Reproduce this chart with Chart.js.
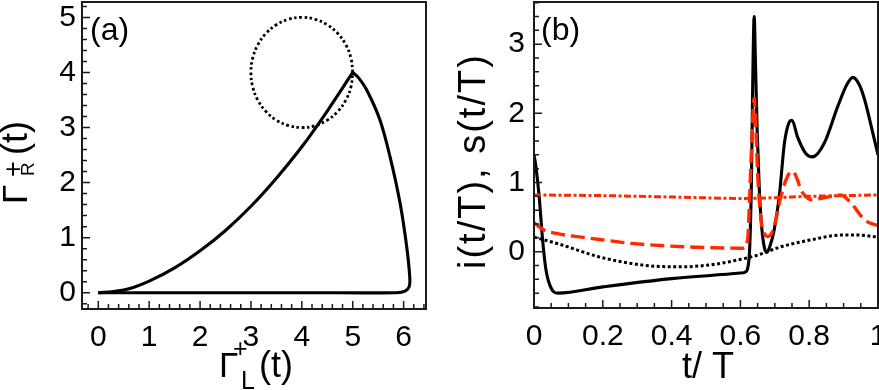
<!DOCTYPE html>
<html>
<head>
<meta charset="utf-8">
<script src="https://cdn.jsdelivr.net/npm/chart.js@4.4.0/dist/chart.umd.min.js"></script>
<style>
  html, body { margin: 0; padding: 0; background: #fff; }
  #wrap { position: relative; width: 879px; height: 390px; overflow: hidden; }
  canvas { position: absolute; top: 0; }
  #chartA { left: 0; }
  #chartB { left: 440px; }
</style>
</head>
<body>
<div id="wrap">
  <canvas id="chartA" width="440" height="390"></canvas>
  <canvas id="chartB" width="439" height="390"></canvas>
</div>
<script>
// ---- panel (a): Gamma_R^+(t) against Gamma_L^+(t) ----
const riseX = [0, 0.3, 0.6, 1.0, 1.5, 2.0, 2.5, 3.0, 3.5, 4.0, 4.5, 5.0];
const riseY = [0, 0.02, 0.07, 0.21, 0.45, 0.76, 1.13, 1.57, 2.08, 2.65, 3.3, 4.0];
const fallX = [5.0, 5.1, 5.27, 5.53, 5.73, 5.93, 6.06, 6.12, 6.11, 6.03, 5.86, 4.0, 2.0, 0];
const fallY = [4.0, 3.92, 3.69, 3.15, 2.48, 1.63, 0.84, 0.29, 0.11, 0.03, 0.0, 0, 0, 0];
const circleX = [5, 4.966, 4.866, 4.707, 4.5, 4.259, 4, 3.741, 3.5, 3.293, 3.134, 3.034, 3,
                 3.034, 3.134, 3.293, 3.5, 3.741, 4, 4.259, 4.5, 4.707, 4.866, 4.966, 5];
const circleY = [4, 4.259, 4.5, 4.707, 4.866, 4.966, 5, 4.966, 4.866, 4.707, 4.5, 4.259, 4,
                 3.741, 3.5, 3.293, 3.134, 3.034, 3, 3.034, 3.134, 3.293, 3.5, 3.741, 4];
const xTicksA = [0, 1, 2, 3, 4, 5, 6];
const yTicksA = [0, 1, 2, 3, 4, 5];

// ---- panel (b): i(t/T), s(t/T) ----
const solidX = [0, 0.005, 0.015, 0.025, 0.035, 0.05, 0.07, 0.2, 0.4, 0.6, 0.616, 0.622, 0.627, 0.632,
                0.636, 0.640, 0.644, 0.649, 0.655, 0.662, 0.670, 0.677, 0.686, 0.698, 0.713, 0.728,
                0.74, 0.75, 0.766, 0.79, 0.81, 0.844, 0.883, 0.91, 0.927, 0.945, 0.961, 0.98, 1.0];
const solidY = [1.40, 1.25, 0.80, 0.17, -0.27, -0.53, -0.60, -0.51, -0.39, -0.31, -0.29, -0.22, 0.05, 1.0,
                2.5, 3.40, 2.7, 1.7, 0.9, 0.35, 0.05, -0.01, 0.08, 0.31, 0.80, 1.57,
                1.85, 1.90, 1.66, 1.42, 1.37, 1.57, 2.10, 2.42, 2.52, 2.42, 2.20, 1.82, 1.40];
const dashedX = [0, 0.03, 0.069, 0.12, 0.185, 0.282, 0.398, 0.5, 0.607, 0.621, 0.627, 0.634, 0.640,
                 0.645, 0.650, 0.660, 0.670, 0.680, 0.690, 0.698, 0.718, 0.738, 0.752, 0.765, 0.776,
                 0.79, 0.805, 0.834, 0.862, 0.892, 0.922, 0.961, 0.99, 1.0];
const dashedY = [0.42, 0.31, 0.26, 0.22, 0.18, 0.12, 0.08, 0.06, 0.05, 0.17, 0.8, 1.7, 2.22,
                 1.8, 1.13, 0.46, 0.26, 0.22, 0.26, 0.36, 0.80, 1.10, 1.16, 1.05, 0.89,
                 0.80, 0.75, 0.77, 0.80, 0.82, 0.70, 0.46, 0.39, 0.38];
const dashDotX = [0, 0.2, 0.4, 0.6, 0.7, 0.8, 0.9, 1.0];
const dashDotY = [0.82, 0.81, 0.79, 0.77, 0.78, 0.80, 0.81, 0.82];
const dottedX = [0, 0.079, 0.185, 0.282, 0.35, 0.427, 0.514, 0.602, 0.65, 0.718, 0.805, 0.892, 0.94, 1.0];
const dottedY = [0.21, 0.10, -0.07, -0.17, -0.21, -0.22, -0.19, -0.11, -0.05, 0.07, 0.17, 0.24, 0.24, 0.21];
const xTicksB = [0, 0.2, 0.4, 0.6, 0.8, 1];
const yTicksB = [0, 1, 2, 3];

const FONT = '"Liberation Sans", Arial, Helvetica, sans-serif';
const RED = '#ff2a00';

const pts = (xs, ys) => xs.map((x, i) => ({ x: x, y: ys[i] }));

function txt(ctx, s, x, y, size) {
  ctx.font = size + 'px ' + FONT;
  ctx.fillText(s, x, y);
}

// frame round the plot and inward ticks on left and bottom
function decorate(chart, xStep, yStep, xTicks, yTicks) {
  const ctx = chart.ctx, a = chart.chartArea;
  const sx = chart.scales.x, sy = chart.scales.y;
  const isMajor = (v, list) => list.some(t => Math.abs(t - v) < 1e-6);
  ctx.save();
  ctx.strokeStyle = '#1a1a1a';
  ctx.lineWidth = 1.5;
  ctx.beginPath();
  for (let v = Math.ceil(sx.min / xStep) * xStep; v <= sx.max + 1e-9; v += xStep) {
    const p = sx.getPixelForValue(v);
    ctx.moveTo(p, a.bottom);
    ctx.lineTo(p, a.bottom - (isMajor(v, xTicks) ? 8 : 5));
  }
  for (let v = Math.ceil(sy.min / yStep) * yStep; v <= sy.max + 1e-9; v += yStep) {
    const p = sy.getPixelForValue(v);
    ctx.moveTo(a.left, p);
    ctx.lineTo(a.left + (isMajor(v, yTicks) ? 8 : 5), p);
  }
  ctx.stroke();
  ctx.lineWidth = 2;
  ctx.strokeRect(a.left, a.top, a.right - a.left, a.bottom - a.top);
  ctx.restore();
}

function noPad(s) {
  s.paddingTop = 0; s.paddingBottom = 0; s.paddingLeft = 0; s.paddingRight = 0;
}

function axes(xMin, xMax, yMin, yMax, xTicks, yTicks, yWidth, xHeight, yPad) {
  const font = { family: FONT, size: 30 };
  return {
    x: {
      type: 'linear', min: xMin, max: xMax,
      grid: { display: false, drawTicks: false }, border: { display: false },
      ticks: { font: font, color: '#000', padding: 11, maxRotation: 0, callback: v => String(v) },
      afterBuildTicks: s => { s.ticks = xTicks.map(v => ({ value: v })); },
      afterFit: s => { s.height = xHeight; noPad(s); }
    },
    y: {
      type: 'linear', min: yMin, max: yMax,
      grid: { display: false, drawTicks: false }, border: { display: false },
      ticks: { font: font, color: '#000', padding: yPad, callback: v => String(v) },
      afterBuildTicks: s => { s.ticks = yTicks.map(v => ({ value: v })); },
      afterFit: s => { s.width = yWidth; noPad(s); }
    }
  };
}

const line = (data, extra) => Object.assign({
  data: data, showLine: true, pointRadius: 0, borderColor: '#000', borderWidth: 3.1, fill: false
}, extra);

new Chart(document.getElementById('chartA'), {
  type: 'scatter',
  data: {
    datasets: [
      line(pts(riseX, riseY), { cubicInterpolationMode: 'monotone' }),
      line(pts(fallX, fallY), { tension: 0.35 }),
      line(pts(circleX, circleY), { tension: 0.4, borderWidth: 2.8, borderDash: [2.6, 2.6] })
    ]
  },
  options: {
    responsive: false,
    animation: false,
    layout: { padding: { top: 2, right: 14, left: 0, bottom: 0 } },
    plugins: { legend: { display: false }, tooltip: { enabled: false } },
    scales: axes(-0.32, 6.44, -0.296, 5.28, xTicksA, yTicksA, 82, 81, 6)
  },
  plugins: [{
    id: 'decorA',
    afterDraw(chart) {
      decorate(chart, 0.2, 0.2, xTicksA, yTicksA);
      const ctx = chart.ctx;
      ctx.save();
      ctx.fillStyle = '#000';
      ctx.textBaseline = 'alphabetic';
      ctx.textAlign = 'left';
      txt(ctx, '(a)', 90, 40, 32);
      // x title
      txt(ctx, 'Γ', 219, 377, 35);
      txt(ctx, '+', 233, 357, 25);
      txt(ctx, 'L', 241, 389, 25);
      txt(ctx, '(t)', 259, 377, 36);
      // y title
      ctx.translate(27, 204);
      ctx.rotate(-Math.PI / 2);
      txt(ctx, 'Γ', 0, 0, 35);
      txt(ctx, '+', 27, -5, 27);
      txt(ctx, 'R', 28, 7, 19);
      txt(ctx, '(t)', 49, 0, 36);
      ctx.restore();
    }
  }]
});

new Chart(document.getElementById('chartB'), {
  type: 'scatter',
  data: {
    datasets: [
      line(pts(dashedX, dashedY), { cubicInterpolationMode: 'monotone', borderColor: RED, borderWidth: 3.4, borderDash: [14, 6] }),
      line(pts(dashDotX, dashDotY), { cubicInterpolationMode: 'monotone', borderColor: RED, borderWidth: 3, borderDash: [7, 2.5, 3, 2.5] }),
      line(pts(solidX, solidY), { cubicInterpolationMode: 'monotone' }),
      line(pts(dottedX, dottedY), { cubicInterpolationMode: 'monotone', borderWidth: 3, borderDash: [3, 2.5] })
    ]
  },
  options: {
    responsive: false,
    animation: false,
    layout: { padding: { top: 2, right: 1, left: 0, bottom: 0 } },
    plugins: { legend: { display: false }, tooltip: { enabled: false } },
    scales: axes(0, 1, -0.815, 3.61, xTicksB, yTicksB, 94, 82, 9)
  },
  plugins: [{
    id: 'decorB',
    afterDraw(chart) {
      decorate(chart, 0.05, 0.2, xTicksB, yTicksB);
      const ctx = chart.ctx;
      ctx.save();
      ctx.fillStyle = '#000';
      ctx.textBaseline = 'alphabetic';
      ctx.textAlign = 'left';
      txt(ctx, '(b)', 101, 40, 32);
      // x title
      txt(ctx, 't/', 242, 378, 36);
      txt(ctx, 'T', 272, 378, 36);
      // y title
      ctx.translate(45, 269);
      ctx.rotate(-Math.PI / 2);
      ctx.letterSpacing = '2px';
      txt(ctx, 'i(t/T), s(t/T)', 0, 0, 38);
      ctx.restore();
    }
  }]
});
</script>
</body>
</html>
